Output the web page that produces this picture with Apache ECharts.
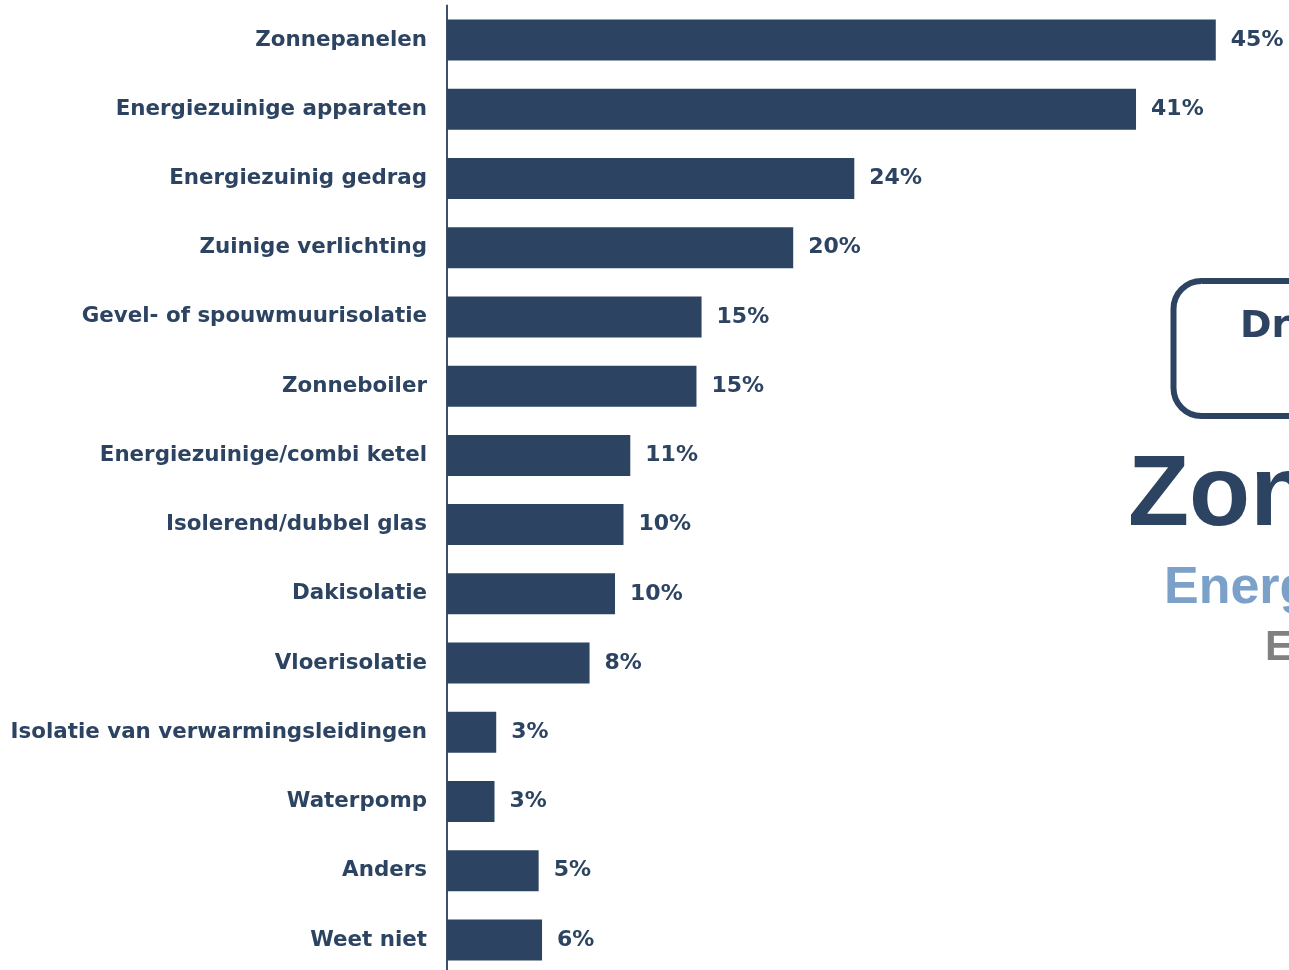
<!DOCTYPE html>
<html>
<head>
<meta charset="utf-8">
<script src="https://cdn.jsdelivr.net/npm/echarts@6/dist/echarts.min.js"></script>
<style>
html,body{margin:0;padding:0;background:#fff;}
#chart{width:1289px;height:970px;}
</style>
</head>
<body>
<div id="chart"></div>
<script>
const categories = [
  'Zonnepanelen',
  'Energiezuinige apparaten',
  'Energiezuinig gedrag',
  'Zuinige verlichting',
  'Gevel- of spouwmuurisolatie',
  'Zonneboiler',
  'Energiezuinige/combi ketel',
  'Isolerend/dubbel glas',
  'Dakisolatie',
  'Vloerisolatie',
  'Isolatie van verwarmingsleidingen',
  'Waterpomp',
  'Anders',
  'Weet niet'
];
const values = [45.3, 40.6, 24.0, 20.4, 15.0, 14.7, 10.8, 10.4, 9.9, 8.4, 2.9, 2.8, 5.4, 5.6];

const navy = '#2c4462';
const font = '"DejaVu Sans", Verdana, sans-serif';
const titleFont = '"Liberation Sans", Arial, sans-serif';

const chart = echarts.init(document.getElementById('chart'), null, {renderer: 'canvas'});
chart.setOption({
  animation: false,
  backgroundColor: '#ffffff',
  grid: {left: 447, top: 5.4, width: 814.6, height: 969.2, containLabel: false, outerBoundsMode: 'none'},
  xAxis: {
    type: 'value', min: 0, max: 48, show: false
  },
  yAxis: {
    type: 'category', data: categories, inverse: true,
    axisLine: {show: true, lineStyle: {color: '#3d5068', width: 2}},
    axisTick: {show: false},
    axisLabel: {color: navy, fontFamily: font, fontWeight: 'bold', fontSize: 21.4, margin: 20}
  },
  series: [{
    type: 'bar', data: values, barWidth: 41,
    itemStyle: {color: navy},
    label: {
      show: true, position: 'right', distance: 15,
      color: navy, fontFamily: font, fontWeight: 'bold', fontSize: 22,
      formatter: p => Math.round(p.value) + '%'
    }
  }],
  graphic: [
    {type: 'rect', shape: {x: 1173.5, y: 281, width: 300, height: 135, r: 28},
     style: {fill: 'none', stroke: navy, lineWidth: 6}, z: 10},
    {type: 'text', style: {x: 1240, y: 308, text: 'Dr', fill: navy, font: 'bold 38px ' + font, verticalAlign: 'top'}, z: 10},
    {type: 'text', style: {x: 1128, y: 447, text: 'Zon', fill: navy, font: 'bold 100px ' + titleFont, verticalAlign: 'top'}, z: 10},
    {type: 'text', style: {x: 1164, y: 563, text: 'Energ', fill: '#7ba1c9', font: 'bold 52px ' + titleFont, verticalAlign: 'top'}, z: 10},
    {type: 'text', style: {x: 1265, y: 627, text: 'E', fill: '#808080', font: 'bold 42px ' + titleFont, verticalAlign: 'top'}, z: 10}
  ]
});
</script>
</body>
</html>
